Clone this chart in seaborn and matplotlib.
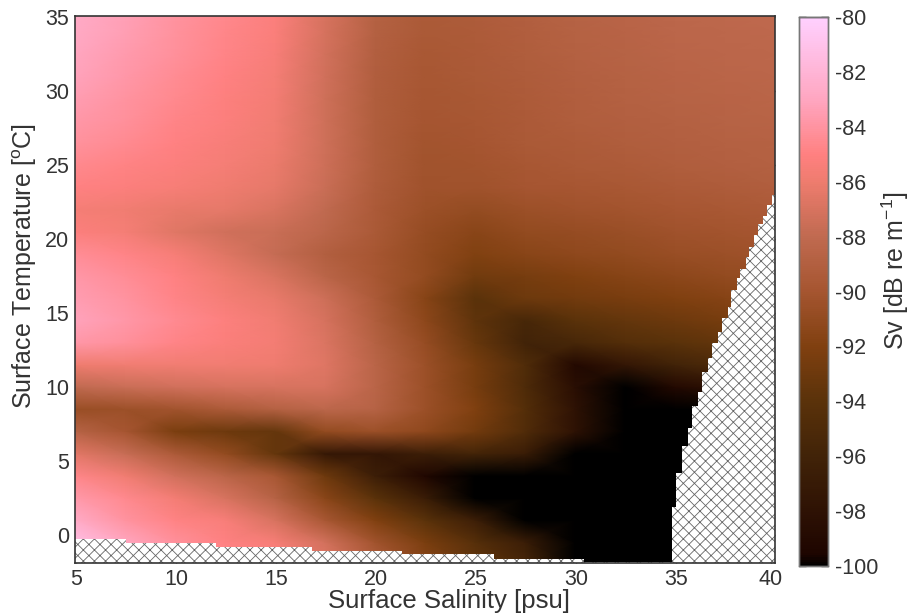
import numpy as np
import matplotlib
matplotlib.use("Agg")
import matplotlib.pyplot as plt
from matplotlib.colors import LinearSegmentedColormap
import seaborn as sns

# Grid: columns are salinity, one list per temperature
salinity = [4.95, 7.45, 9.95, 12.45, 14.95, 17.45, 19.95, 22.45, 24.95, 27.45, 29.95, 32.45, 34.95, 37.45, 40.25]
temp_start = -2.0
temp_step = 1.5
sv_a = [-80.8, -82.5, -83.8, -84.7, -85.2, -86.5, -89, -91.5, -93.5, -95.5, -100, -100, -100, -100, -100]        # -2
sv_b = [-81.3, -83, -84.2, -85, -85.5, -87.2, -90.2, -92.3, -94.3, -96.7, -100, -100, -100, -100, -100]        # -0.5
sv_c = [-82.7, -84, -84.9, -85.4, -87, -89.8, -92, -94, -96.5, -100, -100, -100, -100, -100, -100]             # 1
sv_d = [-83.7, -84.6, -85.7, -87, -88.7, -91.5, -94, -96.8, -100, -100, -100, -100, -100, -100, -100]          # 2.5
sv_e = [-84.7, -85.8, -87.3, -88.5, -89.8, -93, -96.5, -99.3, -100, -100, -100, -100, -100, -100, -100]        # 4
sv_f = [-86.5, -87.7, -89.5, -91, -93.5, -97.2, -97.5, -96.5, -95.8, -96.8, -100, -100, -100, -100, -100]      # 5.5
sv_g = [-88.7, -90, -92.3, -93, -93.5, -91, -90.5, -91.2, -92.7, -94.7, -98, -100, -100, -100, -100]           # 7
sv_h = [-90.7, -90.5, -90.2, -89.5, -88.9, -88.3, -88.7, -90.5, -92, -94.5, -98, -100, -100, -100, -100]       # 8.5
sv_i = [-88, -87.6, -87.3, -87.1, -87, -87, -88.5, -90.5, -92.5, -95, -98.5, -100, -99, -98, -97]              # 10
sv_j = [-86, -85.8, -85.8, -85.8, -86, -86.7, -88.5, -90.5, -92.5, -94.8, -99, -97.5, -96, -95, -94.5]         # 11.5
sv_k = [-83.8, -84.2, -84.8, -85.3, -85.7, -86.8, -88.8, -90.8, -93.3, -96, -95.5, -94.5, -94, -93.5, -93]     # 13
sv_l = [-83.2, -83.8, -84.5, -85.1, -85.8, -87.1, -89.2, -91.3, -93.8, -95.5, -94, -93.5, -93, -92.5, -92.2]   # 14.5
sv_m = [-83.5, -84, -84.8, -85.6, -86.2, -87.5, -89.5, -91.6, -94, -93, -92.7, -92.4, -92, -91.7, -91.4]       # 16
sv_n = [-83.8, -84.3, -85, -86, -86.9, -88.5, -89.8, -91, -92.8, -92.5, -92, -91.6, -91.3, -91, -90.8]         # 17.5
sv_o = [-84.3, -84.8, -85.5, -86.7, -87.8, -89, -89.9, -91, -91.9, -91.5, -91.2, -91, -90.7, -90.5, -90.2]     # 19
sv_p = [-85.2, -85.6, -86.6, -87.3, -87.6, -88.4, -89.6, -90.8, -91.5, -91, -90.8, -90.6, -90.3, -90.1, -89.9] # 20.5
sv_q = [-85.6, -85.8, -86.2, -86.4, -86.9, -88, -89.5, -90.5, -90.9, -90.5, -90.3, -90.1, -89.9, -89.7, -89.5] # 22
sv_r = [-85, -85.2, -85.5, -85.9, -86.4, -87.6, -89.3, -90.3, -90.3, -90, -89.9, -89.7, -89.5, -89.3, -89.1]   # 23.5
sv_s = [-84.6, -84.9, -85.2, -85.6, -86.1, -87.5, -89.2, -90.2, -90.1, -89.8, -89.6, -89.4, -89.2, -89, -88.9] # 25
sv_t = [-84.1, -84.5, -85, -85.4, -85.9, -87.4, -89.2, -90.1, -90, -89.6, -89.4, -89.2, -89, -88.9, -88.8]     # 26.5
sv_u = [-83.8, -84.2, -84.8, -85.2, -85.8, -87.4, -89.2, -90, -89.8, -89.5, -89.2, -89, -88.9, -88.7, -88.6]   # 28
sv_v = [-83.5, -84, -84.6, -85.1, -85.7, -87.4, -89.2, -89.9, -89.7, -89.4, -89.1, -88.9, -88.7, -88.6, -88.5] # 29.5
sv_w = [-83.2, -83.8, -84.4, -85, -85.6, -87.3, -89.1, -89.8, -89.6, -89.3, -89, -88.8, -88.6, -88.5, -88.4]   # 31
sv_x = [-83, -83.6, -84.2, -84.8, -85.4, -87.2, -89, -89.7, -89.5, -89.2, -88.9, -88.7, -88.5, -88.4, -88.3]   # 32.5
sv_y = [-82.8, -83.4, -84.1, -84.7, -85.3, -87.1, -88.9, -89.6, -89.4, -89.1, -88.8, -88.6, -88.4, -88.3, -88.2] # 34
sv_z = [-82.7, -83.3, -84, -84.6, -85.2, -87, -88.8, -89.5, -89.3, -89, -88.7, -88.5, -88.3, -88.2, -88.1]     # 35.5

# Edges of the no-data (hatched) area
bottom_sal = [4.95, 7.5, 12, 16.8, 21.3, 25.9, 30.4, 34.8]
bottom_temp = [-0.3, -0.55, -0.8, -1.08, -1.3, -1.6, -1.8, -1.8]
right_temp = [-1.9, 1.9, 4.2, 6, 7.2, 8.7, 9.7, 11, 12, 13, 13.7, 14.7, 15.4, 16.6, 17.4, 18, 18.8, 19.5, 20.3, 21, 21.6, 22.3, 23]
right_sal = [34.8, 35.0, 35.3, 35.6, 35.8, 36.1, 36.3, 36.6, 36.8, 37.1, 37.3, 37.6, 37.8, 38.1, 38.3, 38.6, 38.8, 39.1, 39.3, 39.6, 39.8, 40.1, 40.25]

sal_ticks = [5, 10, 15, 20, 25, 30, 35, 40]
temp_ticks = [0, 5, 10, 15, 20, 25, 30, 35]
cbar_ticks = [-80, -82, -84, -86, -88, -90, -92, -94, -96, -98, -100]

cmap_stops = [(0.0, "#000000"), (0.02, "#1e0500"), (0.1, "#2e1204"), (0.2, "#412308"), (0.3, "#5a320a"),
              (0.4, "#804010"), (0.5, "#a55530"), (0.6, "#c06a50"), (0.7, "#ee7c6e"), (0.75, "#ff8080"),
              (0.85, "#ffa6c0"), (1.0, "#ffd0ff")]
ink = "#333333"
hatch_grey = "#666666"

sns.set_theme(style="ticks")
plt.rcParams["font.family"] = ["Liberation Sans", "DejaVu Sans"]
plt.rcParams["mathtext.default"] = "regular"
plt.rcParams["axes.unicode_minus"] = False
plt.rcParams["hatch.linewidth"] = 0.6
plt.rcParams["hatch.color"] = hatch_grey

grid = np.array([sv_a, sv_b, sv_c, sv_d, sv_e, sv_f, sv_g, sv_h, sv_i, sv_j, sv_k, sv_l, sv_m,
                 sv_n, sv_o, sv_p, sv_q, sv_r, sv_s, sv_t, sv_u, sv_v, sv_w, sv_x, sv_y, sv_z])

W, H = 909, 614
fig = plt.figure(figsize=(W / 100, H / 100), dpi=100)
ax = fig.add_axes([75 / W, 1 - 563 / H, 700 / W, 547 / H])
cax = fig.add_axes([799 / W, 1 - 566 / H, 29 / W, 549 / H])
cmap = LinearSegmentedColormap.from_list("sv", cmap_stops, N=256)

sns.heatmap(grid, ax=ax, cbar_ax=cax, cmap=cmap, vmin=-100, vmax=-80, shading="gouraud",
            xticklabels=False, yticklabels=False,
            cbar_kws={"ticks": cbar_ticks})

col = lambda s: np.interp(s, salinity, np.arange(len(salinity)))
row = lambda t: (np.asarray(t, dtype=float) - temp_start) / temp_step

ax.set_xlim(0, len(salinity) - 1)
ax.set_ylim(row(-1.9), row(35.1))
ax.set_xticks(col(sal_ticks), labels=[str(v) for v in sal_ticks])
ax.set_yticks(row(temp_ticks), labels=[str(v) for v in temp_ticks])
ax.tick_params(direction="in", length=5, width=1, top=True, right=True, colors=ink,
               labelsize=15.5, pad=4, labelcolor=ink)
for spine in ax.spines.values():
    spine.set_visible(True)
    spine.set_color(ink)
    spine.set_linewidth(1.2)
    spine.set_zorder(5)

# hatched no-data areas
ax.fill_between(col(bottom_sal), row(-1.9), row(bottom_temp), step="post",
                facecolor="white", edgecolor=hatch_grey, hatch="xxx", linewidth=0, zorder=3)
ax.fill_betweenx(row(right_temp), col(right_sal), col(40.25), step="post",
                 facecolor="white", edgecolor=hatch_grey, hatch="xxx", linewidth=0, zorder=3)

ax.set_xlabel("Surface Salinity [psu]", fontsize=18.5, color=ink, va="center")
ax.xaxis.set_label_coords(0.534, -0.0695)
ax.set_ylabel("Surface Temperature [$^{o}$C]", fontsize=18, color=ink, va="center")
ax.yaxis.set_label_coords(-0.072, 0.543)

cax.tick_params(direction="in", length=5, width=1, left=True, right=True, color=ink,
                labelsize=15.5, labelcolor=ink, pad=5)
cax.set_ylabel("Sv [dB re m$^{-1}$]", fontsize=18, color=ink, va="center")
cax.yaxis.set_label_coords(3.31, 0.537)
for spine in cax.spines.values():
    spine.set_visible(True)
    spine.set_color("#777777")
    spine.set_linewidth(1)
cax.spines["top"].set_color("#222222")

fig.savefig("out.png", dpi=100)
